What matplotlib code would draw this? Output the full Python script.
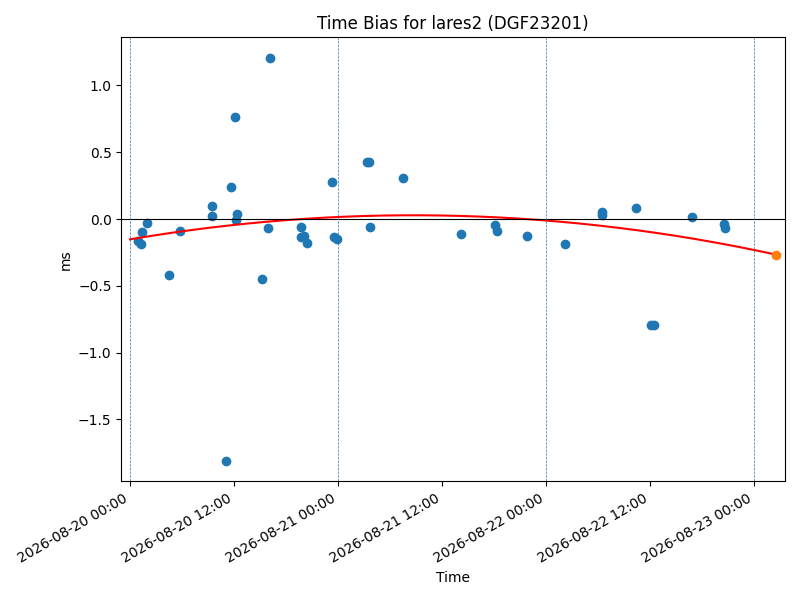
import numpy as np
import pandas as pd
import matplotlib
matplotlib.use("Agg")
import matplotlib.pyplot as plt
import matplotlib.dates as mdates

satellite = "lares2"
station = "DGF23201"

obs_times = [
    "2026-08-20 00:58", "2026-08-20 01:16", "2026-08-20 01:20", "2026-08-20 01:55",
    "2026-08-20 04:33", "2026-08-20 05:44", "2026-08-20 09:26", "2026-08-20 09:27",
    "2026-08-20 11:08", "2026-08-20 11:38", "2026-08-20 12:04", "2026-08-20 12:13",
    "2026-08-20 12:20", "2026-08-20 15:13", "2026-08-20 15:55", "2026-08-20 16:09",
    "2026-08-20 19:44", "2026-08-20 19:45", "2026-08-20 20:07", "2026-08-20 20:26",
    "2026-08-20 23:19", "2026-08-20 23:31", "2026-08-20 23:54", "2026-08-21 03:20",
    "2026-08-21 03:38", "2026-08-21 03:43", "2026-08-21 07:32", "2026-08-21 14:14",
    "2026-08-21 18:10", "2026-08-21 18:20", "2026-08-21 21:52", "2026-08-22 02:14",
    "2026-08-22 06:26", "2026-08-22 06:27", "2026-08-22 10:22", "2026-08-22 12:08",
    "2026-08-22 12:31", "2026-08-22 16:50", "2026-08-22 20:30", "2026-08-22 20:40",
]
bias_ms = [
    -0.167, -0.187, -0.094, -0.030,
    -0.418, -0.087, 0.094, 0.022,
    -1.813, 0.239, 0.761, -0.010,
    0.040, -0.448, -0.067, 1.209,
    -0.060, -0.132, -0.127, -0.179,
    0.278, -0.134, -0.149, 0.425,
    0.425, -0.060, 0.306, -0.112,
    -0.043, -0.090, -0.127, -0.184,
    0.054, 0.034, 0.084, -0.791,
    -0.791, 0.017, -0.035, -0.067,
]
pred_time = "2026-08-23 02:33"
pred_bias = -0.266

# quadratic trend (ms vs hours since start)
trend_coef = [-1.683e-4, 0.011017, -0.152]
trend_start = "2026-08-20 00:00"

x_from = "2026-08-19 23:00"
x_to = "2026-08-23 03:35"

t = pd.to_datetime(obs_times)
t0 = pd.Timestamp(trend_start)
tp = pd.Timestamp(pred_time)

fit_h = np.linspace(0, (tp - t0).total_seconds() / 3600.0, 200)
fit_t = t0 + pd.to_timedelta(fit_h, unit="h")
fit_v = np.polyval(trend_coef, fit_h)

fig, ax = plt.subplots(figsize=(8, 6), dpi=100)
ax.scatter(t, bias_ms)
ax.plot(fit_t, fit_v, color="red")
ax.plot([tp], [pred_bias], "o", color="C1")
ax.axhline(0, color="black", linewidth=0.8)
for d in pd.date_range("2026-08-20", "2026-08-23", freq="D"):
    ax.axvline(d, linestyle="--", linewidth=0.5)

ax.set_xlim(pd.Timestamp(x_from), pd.Timestamp(x_to))
ax.xaxis.set_major_locator(mdates.HourLocator(byhour=[0, 12]))
ax.xaxis.set_major_formatter(mdates.DateFormatter("%Y-%m-%d %H:%M"))
ax.set_title(f"Time Bias for {satellite} ({station})")
ax.set_xlabel("Time")
ax.set_ylabel("ms")
fig.autofmt_xdate()
fig.tight_layout()
fig.savefig("out.png")
